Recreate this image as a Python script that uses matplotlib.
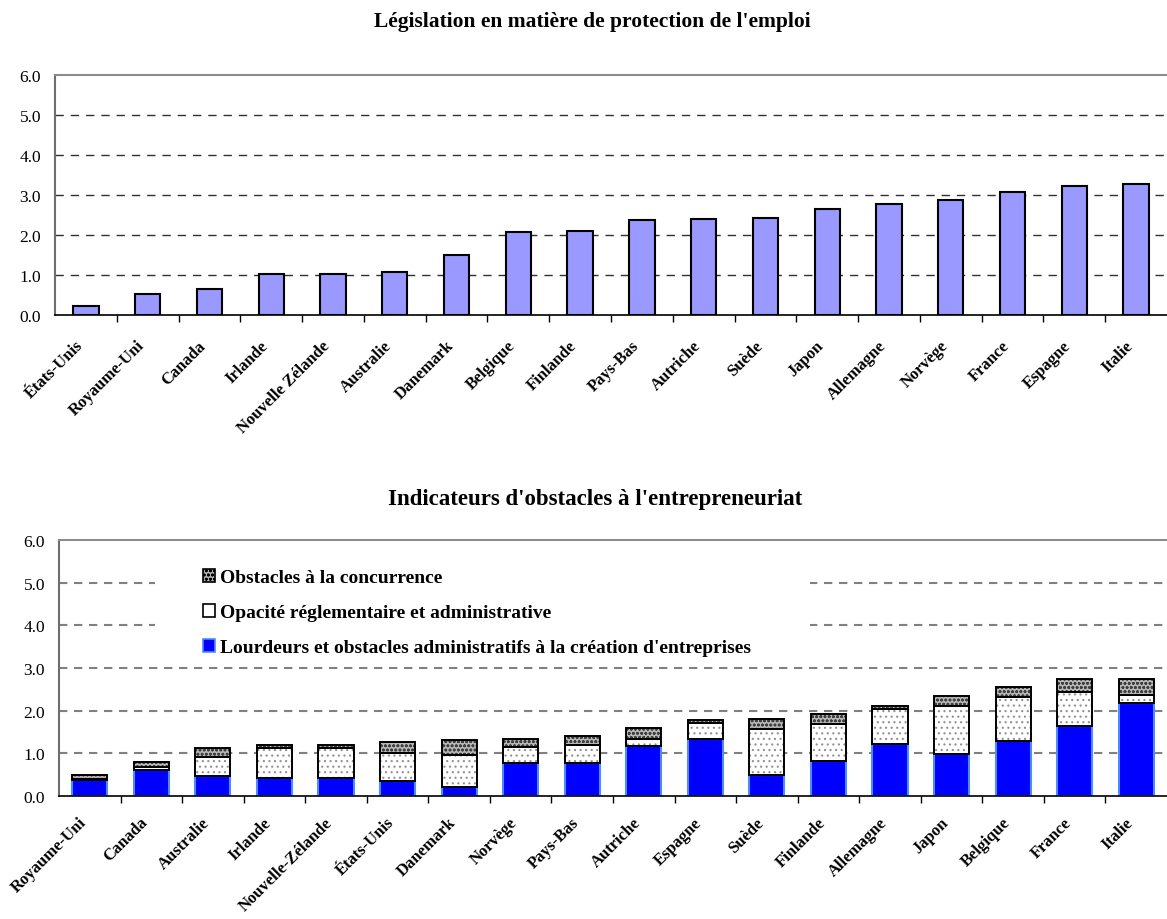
import matplotlib
matplotlib.use("Agg")
import matplotlib.pyplot as plt
from matplotlib.patches import Patch, Rectangle
import numpy as np

# ---------------- data ----------------
epl_countries = ["États-Unis", "Royaume-Uni", "Canada", "Irlande", "Nouvelle Zélande",
                 "Australie", "Danemark", "Belgique", "Finlande", "Pays-Bas", "Autriche",
                 "Suède", "Japon", "Allemagne", "Norvège", "France", "Espagne", "Italie"]
epl_values = [0.23, 0.52, 0.65, 1.02, 1.03, 1.07, 1.49, 2.08, 2.10, 2.37, 2.39,
              2.43, 2.65, 2.78, 2.88, 3.08, 3.22, 3.28]

ent_countries = ["Royaume-Uni", "Canada", "Australie", "Irlande", "Nouvelle-Zélande",
                 "États-Unis", "Danemark", "Norvège", "Pays-Bas", "Autriche", "Espagne",
                 "Suède", "Finlande", "Allemagne", "Japon", "Belgique", "France", "Italie"]
lourdeurs = [0.37, 0.61, 0.48, 0.43, 0.43, 0.36, 0.20, 0.78, 0.77, 1.17, 1.34,
             0.49, 0.82, 1.21, 0.98, 1.28, 1.64, 2.17]
opacite = [0.03, 0.08, 0.44, 0.69, 0.70, 0.64, 0.75, 0.38, 0.42, 0.17, 0.37,
           1.09, 0.86, 0.82, 1.14, 1.05, 0.79, 0.19]
concurrence = [0.09, 0.11, 0.21, 0.08, 0.07, 0.26, 0.37, 0.17, 0.22, 0.26, 0.07,
               0.23, 0.25, 0.08, 0.22, 0.22, 0.31, 0.38]

title_top = "Législation en matière de protection de l'emploi"
title_bottom = "Indicateurs d'obstacles à l'entrepreneuriat"
legend_labels = ["Obstacles à la concurrence",
                 "Opacité réglementaire et administrative",
                 "Lourdeurs et obstacles administratifs à la création d'entreprises"]
yticks = [0.0, 1.0, 2.0, 3.0, 4.0, 5.0, 6.0]

# ---------------- style ----------------
plt.rcParams['font.family'] = ['Liberation Serif', 'DejaVu Serif']
plt.rcParams['hatch.linewidth'] = 0.8
W, H = 1167, 920
fig = plt.figure(figsize=(W / 100, H / 100), dpi=100)


def px_axes(left, right, top, bottom):
    return fig.add_axes([left / W, 1 - bottom / H, (right - left) / W, (bottom - top) / H])


def style_axes(ax, n, grid_color, grid_lw, dash, label_pad):
    ax.set_xlim(0, n)
    ax.set_ylim(0, 6)
    ax.set_yticks(yticks)
    ax.set_yticklabels([f"{v:.1f}" for v in yticks], fontsize=12.5)
    ax.tick_params(axis='y', length=0, pad=10)
    for v in yticks[1:-1]:
        ax.axhline(v, color=grid_color, lw=grid_lw, linestyle=(0, dash), zorder=0.5)
    ax.spines['right'].set_visible(False)
    ax.spines['top'].set_color('#8c8c8c')
    ax.spines['top'].set_linewidth(1.5)
    ax.spines['left'].set_color('#6e6e6e')
    ax.spines['left'].set_linewidth(1.5)
    ax.spines['bottom'].set_color('black')
    ax.spines['bottom'].set_linewidth(1.2)
    ax.set_xticks(np.arange(n) + 0.5)
    ax.tick_params(axis='x', which='major', length=0, pad=label_pad)
    ax.set_xticks(np.arange(1, n), minor=True)
    ax.tick_params(axis='x', which='minor', length=5, width=1, color='black', direction='out')


# ---------------- top chart ----------------
ax1 = px_axes(55, 1167, 76, 316)
n1 = len(epl_countries)
x1 = np.arange(n1) + 0.5
style_axes(ax1, n1, '#303030', 1.0, (6, 5), 16)
ax1.bar(x1, epl_values, width=0.41, color='#9999FF', edgecolor='black', linewidth=1.5, zorder=2)
ax1.set_xticklabels(epl_countries, rotation=45, ha='right', va='top',
                    fontsize=12, fontweight='bold')
fig.text(592 / W, 1 - 22 / H, title_top, ha='center', va='center',
         fontsize=15.5, fontweight='bold')

# ---------------- bottom chart ----------------
ax2 = px_axes(59, 1167, 541, 797)
n2 = len(ent_countries)
x2 = np.arange(n2) + 0.5
style_axes(ax2, n2, '#808080', 1.5, (4, 3.2), 13)
bw = 0.57
l = np.array(lourdeurs)
o = np.array(opacite)
c = np.array(concurrence)

ax2.bar(x2, l, width=bw, color='#0000FF', edgecolor='#4d8cff', linewidth=1.5, zorder=2)
# opacity segment: white with sparse dots, then black outline
ax2.bar(x2, o, bottom=l, width=bw, color='white', edgecolor='#909090', hatch='...',
        linewidth=0, zorder=2)
ax2.bar(x2, o, bottom=l, width=bw, fill=False, edgecolor='black', linewidth=1.4, zorder=3)
# competition segment: grey dense pattern, then black outline
ax2.bar(x2, c, bottom=l + o, width=bw, color='#b8b8b8', edgecolor='#404040', hatch='oooo',
        linewidth=0, zorder=2)
ax2.bar(x2, c, bottom=l + o, width=bw, fill=False, edgecolor='black', linewidth=1.4, zorder=3)

ax2.set_xticklabels(ent_countries, rotation=45, ha='right', va='top',
                    fontsize=12, fontweight='bold')
fig.text(595 / W, 1 - 500 / H, title_bottom, ha='center', va='center',
         fontsize=16.5, fontweight='bold')

# white area behind the legend (hides the dashed grid lines)
ax2.add_patch(Rectangle((0.087, 0.527), 0.591, 0.40, transform=ax2.transAxes,
                        facecolor='white', edgecolor='none', zorder=1))

handles = [
    Patch(facecolor='#b0b0b0', edgecolor='black', hatch='oooo', linewidth=1.2),
    Patch(facecolor='white', edgecolor='black', linewidth=1.2),
    Patch(facecolor='#0000FF', edgecolor='#4d8cff', linewidth=1.2),
]
leg = ax2.legend(handles, legend_labels, loc='upper left',
                 bbox_to_anchor=(0.1210, 0.925), frameon=False, borderpad=0,
                 handlelength=0.65, handleheight=0.65, handletextpad=0.25,
                 labelspacing=0.90, prop={'weight': 'bold', 'size': 14})
leg.set_zorder(5)

fig.savefig('out.png', dpi=100)
